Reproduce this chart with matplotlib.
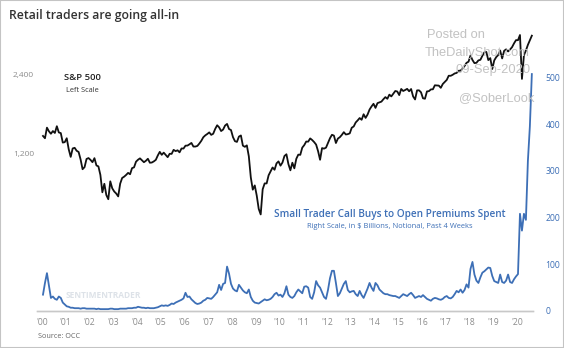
import matplotlib
matplotlib.use("Agg")
import matplotlib.pyplot as plt
import numpy as np
import pandas as pd
from matplotlib.patches import Rectangle
from matplotlib.ticker import FixedLocator, FixedFormatter, NullLocator

# S&P 500, one value per month (Jan 2000 - Aug 2020), left scale (log)
spx = [
    1394, 1366, 1499, 1452, 1421, 1455, 1431, 1518, 1437, 1429, 1315, 1320,  # 2000
    1366, 1240, 1160, 1249, 1256, 1224, 1211, 1134, 1041, 1060, 1139, 1148,  # 2001
    1130, 1107, 1147, 1076, 1067, 990, 850, 916, 830, 800, 936, 880,         # 2002
    856, 841, 820, 917, 964, 975, 990, 1008, 996, 1051, 1058, 1112,          # 2003
    1131, 1145, 1126, 1107, 1121, 1141, 1102, 1104, 1115, 1130, 1174, 1212,  # 2004
    1181, 1204, 1181, 1157, 1192, 1191, 1234, 1220, 1229, 1207, 1249, 1248,  # 2005
    1280, 1281, 1295, 1311, 1270, 1270, 1277, 1304, 1336, 1378, 1401, 1418,  # 2006
    1438, 1407, 1421, 1482, 1531, 1503, 1455, 1474, 1527, 1549, 1481, 1468,  # 2007
    1379, 1331, 1323, 1386, 1400, 1280, 1267, 1283, 1166, 969, 870, 903,     # 2008
    826, 735, 700, 873, 919, 919, 987, 1021, 1057, 1036, 1096, 1115,         # 2009
    1074, 1104, 1169, 1187, 1089, 1031, 1102, 1049, 1141, 1183, 1181, 1258,  # 2010
    1286, 1327, 1326, 1364, 1345, 1321, 1292, 1219, 1131, 1253, 1247, 1258,  # 2011
    1312, 1366, 1408, 1398, 1310, 1362, 1379, 1407, 1441, 1412, 1416, 1426,  # 2012
    1498, 1515, 1569, 1598, 1631, 1606, 1686, 1633, 1682, 1757, 1806, 1848,  # 2013
    1783, 1859, 1872, 1884, 1924, 1960, 1931, 2003, 1972, 2018, 2068, 2059,  # 2014
    1995, 2105, 2068, 2086, 2107, 2063, 2104, 1972, 1920, 2079, 2080, 2044,  # 2015
    1940, 1932, 2060, 2065, 2097, 2099, 2174, 2171, 2168, 2126, 2199, 2239,  # 2016
    2279, 2364, 2363, 2384, 2412, 2423, 2470, 2472, 2519, 2575, 2648, 2674,  # 2017
    2824, 2714, 2641, 2648, 2705, 2718, 2816, 2902, 2914, 2712, 2760, 2507,  # 2018
    2704, 2784, 2834, 2946, 2752, 2942, 2980, 2926, 2977, 3038, 3141, 3231,  # 2019
    3230, 3380, 2300, 2830, 2950, 3100, 3230, 3360,                          # 2020
]

# Small trader call buys to open, $ billions, past 4 weeks (right scale)
calls = [
    35, 60, 81, 55, 28, 31, 26, 24, 31, 28, 18, 14,   # 2000
    10, 9, 7, 7, 6, 6, 6, 5, 6, 6, 5, 5,              # 2001
    5, 5, 5, 4, 5, 4, 4, 4, 4, 4, 5, 5,               # 2002
    4, 4, 4, 5, 5, 5, 5, 6, 6, 6, 7, 7,               # 2003
    9, 8, 7, 7, 6, 7, 6, 6, 6, 7, 8, 10,              # 2004
    12, 11, 12, 11, 13, 16, 15, 18, 20, 22, 24, 27,   # 2005
    39, 30, 31, 25, 21, 17, 15, 16, 18, 22, 24, 28,   # 2006
    27, 26, 30, 35, 40, 56, 45, 58, 60, 95, 80, 58,   # 2007
    48, 44, 42, 56, 50, 44, 40, 38, 46, 30, 22, 18,   # 2008
    17, 16, 19, 22, 25, 23, 24, 26, 30, 36, 39, 33,   # 2009
    35, 30, 38, 53, 35, 30, 28, 32, 40, 46, 42, 38,   # 2010
    52, 53, 50, 30, 26, 40, 64, 55, 50, 40, 30, 26,   # 2011
    45, 70, 86, 86, 60, 32, 38, 48, 58, 64, 45, 40,   # 2012
    42, 43, 36, 32, 43, 34, 28, 38, 48, 60, 50, 43,   # 2013
    60, 55, 46, 42, 38, 36, 36, 34, 33, 32, 32, 30,   # 2014
    28, 32, 36, 34, 32, 36, 39, 34, 28, 30, 32, 30,   # 2015
    34, 30, 26, 24, 22, 26, 28, 27, 25, 24, 26, 30,   # 2016
    32, 28, 27, 30, 36, 43, 40, 46, 39, 45, 57, 50,   # 2017
    90, 105, 78, 65, 60, 72, 82, 85, 89, 93, 92, 75,  # 2018
    64, 62, 60, 78, 62, 60, 65, 78, 62, 60, 68, 74,   # 2019
    79, 208, 172, 208, 195, 321, 395, 507,            # 2020
]

year_ticks = list(range(2000, 2021))
year_labels = ["'%02d" % (y % 100) for y in year_ticks]
left_ticks = [1200, 2400]
left_labels = ["1,200", "2,400"]
right_ticks = [0, 100, 200, 300, 400, 500]

# monthly dates -> decimal years (mid-month)
dates = pd.date_range("2000-01-01", periods=len(spx), freq="MS")
xs = dates.year + (dates.month - 0.5) / 12.0

BLACK = "#111111"
BLUE = "#3d6fb6"
GRAY = "#8c8c8c"

plt.rcParams["font.family"] = ["Open Sans", "DejaVu Sans"]

W, H = 564, 348
fig = plt.figure(figsize=(W / 100, H / 100), dpi=100)
fig.patch.set_facecolor("white")
fig.patches.append(Rectangle((0, 0), 1, 1, transform=fig.transFigure,
                             fill=False, edgecolor="#c4c4c4", linewidth=1.5))

# axes placed in pixel terms
left_px, right_px, top_px, bot_px = 37, 533, 25, 311
ax = fig.add_axes([left_px / W, 1 - bot_px / H, (right_px - left_px) / W, (bot_px - top_px) / H])
ax2 = ax.twinx()

ax.plot(xs, spx, color=BLACK, lw=1.3, zorder=3)
ax.set_yscale("log")
ax.set_ylim(300, 3690)
ax.yaxis.set_major_locator(FixedLocator(left_ticks))
ax.yaxis.set_major_formatter(FixedFormatter(left_labels))
ax.yaxis.set_minor_locator(NullLocator())
ax.tick_params(axis="y", length=0, pad=2, labelsize=6, labelcolor=GRAY)

ax2.plot(xs, calls, color=BLUE, lw=1.3, zorder=3)
ax2.set_ylim(0, 612)
ax2.set_yticks(right_ticks)
ax2.tick_params(axis="y", length=0, pad=9, labelsize=6.2, labelcolor=BLUE)

ax.set_xlim(2000 - 5 / 23.75, 2020 + 16 / 23.75)
ax.set_xticks(year_ticks)
ax.set_xticklabels(year_labels)
ax.tick_params(axis="x", length=0, pad=5, labelsize=6.2, labelcolor=GRAY)

for a in (ax, ax2):
    for s in ("top", "left", "right"):
        a.spines[s].set_visible(False)
    a.spines["bottom"].set_color("#c8c8c8")
    a.spines["bottom"].set_linewidth(1.0)
    a.patch.set_alpha(0)

# titles and labels
fig.text(9 / W, 1 - 15 / H, "Retail traders are going all-in", fontsize=8.8,
         fontweight="semibold", color="#333333", va="center", ha="left")
fig.text(38 / W, 1 - 336 / H, "Source: OCC", fontsize=5.2, color="#666666", va="center")

fig.text(82 / W, 1 - 78 / H, "S&P 500", fontsize=6.8, fontweight="semibold",
         color="#222222", ha="center", va="center")
fig.text(82 / W, 1 - 90 / H, "Left Scale", fontsize=5.3, color="#333333",
         ha="center", va="center")

fig.text(390 / W, 1 - 215 / H, "Small Trader Call Buys to Open Premiums Spent",
         fontsize=7.2, fontweight="semibold", color=BLUE, ha="center", va="center")
fig.text(390 / W, 1 - 227 / H, "Right Scale, in $ Billions, Notional, Past 4 Weeks",
         fontsize=5.4, color=BLUE, ha="center", va="center")

# watermarks
fig.text(103 / W, 1 - 295 / H, "SENTIMENTRADER", fontsize=6.0, fontweight="bold",
         color="#dde2e8", ha="center", va="center", zorder=0)
wm = dict(family=["Liberation Sans", "DejaVu Sans"], color="#c2c2c2", fontsize=9.3)
fig.text(427 / W, 1 - 35 / H, "Posted on", ha="left", va="center", **wm)
fig.text(425 / W, 1 - 53 / H, "TheDailyShot.com", ha="left", va="center", **wm)
fig.text(531 / W, 1 - 70 / H, "09-Sep-2020", ha="right", va="center", **wm)
fig.text(459 / W, 1 - 98 / H, "@SoberLook", ha="left", va="center", **wm)

fig.savefig("out.png", dpi=100, facecolor="white")
